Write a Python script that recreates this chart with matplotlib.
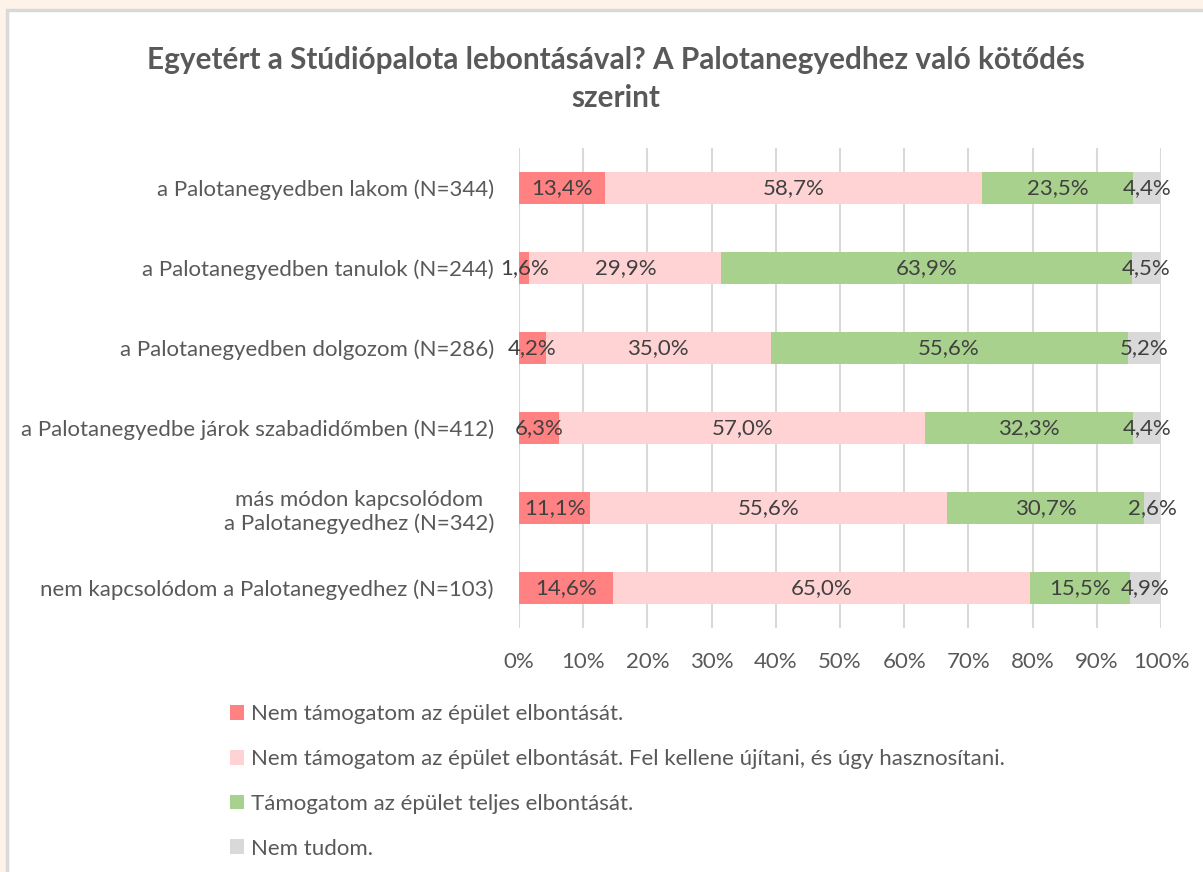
import matplotlib.pyplot as plt
from matplotlib.patches import Rectangle
import numpy as np

plt.rcParams['font.family'] = ['Lato', 'DejaVu Sans']

groups = ['a Palotanegyedben lakom (N=344)',
          'a Palotanegyedben tanulok (N=244)',
          'a Palotanegyedben dolgozom (N=286)',
          'a Palotanegyedbe járok szabadidőmben (N=412)',
          'más módon kapcsolódom\na Palotanegyedhez (N=342)',
          'nem kapcsolódom a Palotanegyedhez (N=103)']
series = ['Nem támogatom az épület elbontását.',
          'Nem támogatom az épület elbontását. Fel kellene újítani, és úgy hasznosítani.',
          'Támogatom az épület teljes elbontását.',
          'Nem tudom.']
nem_tamogatom = [13.4, 1.6, 4.2, 6.3, 11.1, 14.6]
felujitani = [58.7, 29.9, 35.0, 57.0, 55.6, 65.0]
tamogatom = [23.5, 63.9, 55.6, 32.3, 30.7, 15.5]
nem_tudom = [4.4, 4.5, 5.2, 4.4, 2.6, 4.9]
colors = ['#FF8181', '#FFD3D3', '#A9D18E', '#D9D9D9']

vals = np.array([nem_tamogatom, felujitani, tamogatom, nem_tudom])
shares = vals / vals.sum(axis=0) * 100  # 100% stacked

fs = 16

fig = plt.figure(figsize=(12.03, 8.72), dpi=100)
fig.patch.set_facecolor('#FDF3E9')
fig.patches.append(Rectangle((7 / 1203, -0.1), 1.2, 1.1 - 10 / 872, transform=fig.transFigure,
                             facecolor='white', edgecolor='#D9D9D9', linewidth=2.5, zorder=-1))

ax = fig.add_axes([519 / 1203, 1 - 628 / 872, (1161 - 519) / 1203, 480 / 872])
ax.set_facecolor('none')
y = np.arange(len(groups))
left = np.zeros(len(groups))
for i in range(4):
    ax.barh(y, shares[i], left=left, height=0.4, color=colors[i], label=series[i], zorder=2)
    for j in range(len(groups)):
        ax.text(left[j] + shares[i][j] / 2, y[j], f'{vals[i][j]:.1f}%'.replace('.', ','),
                ha='center', va='center', fontsize=fs, color='#404040', zorder=3)
    left += shares[i]

ax.set_xlim(0, 100)
ax.set_ylim(len(groups) - 0.5, -0.5)
ax.set_xticks(np.arange(0, 101, 10))
ax.set_xticklabels([f'{t}%' for t in range(0, 101, 10)])
ax.set_yticks(y)
ax.set_yticklabels(groups, multialignment='center')
ax.tick_params(length=0, labelsize=fs, labelcolor='#595959')
ax.tick_params(axis='x', pad=17)
ax.tick_params(axis='y', pad=18)
ax.grid(axis='x', color='#D9D9D9', linewidth=1.5, zorder=0)
for s in ax.spines.values():
    s.set_visible(False)

fig.text(616 / 1203, 1 - 79 / 872,
         'Egyetért a Stúdiópalota lebontásával? A Palotanegyedhez való kötődés\nszerint',
         ha='center', va='center', fontsize=21.4, fontweight='bold', color='#595959',
         linespacing=1.42)

handles, labels = ax.get_legend_handles_labels()
fig.legend(handles, labels, loc='upper left', bbox_to_anchor=(210 / 1203, 1 - 684 / 872),
           frameon=False, fontsize=fs, labelcolor='#595959', handlelength=0.65,
           handleheight=0.65, handletextpad=0.3, labelspacing=1.12)

fig.savefig('out.png', dpi=100, facecolor=fig.get_facecolor())
